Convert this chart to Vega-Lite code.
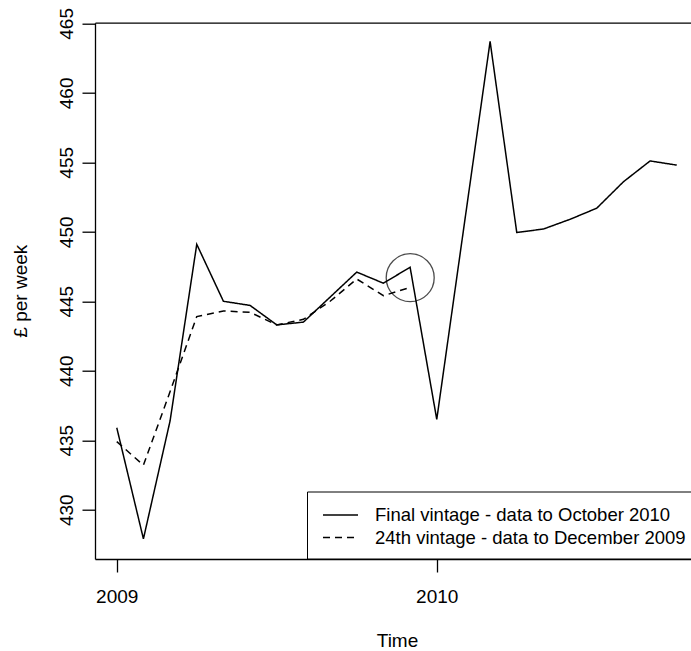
{
  "$schema": "https://vega.github.io/schema/vega-lite/v6.json",
  "autosize": "none",
  "width": 596,
  "height": 536.3,
  "padding": {"left": 95, "top": 22.7, "right": 0, "bottom": 92},
  "background": "white",
  "config": {
    "view": {"stroke": null},
    "font": "Liberation Sans",
    "axis": {"grid": false, "domainColor": "black", "domainWidth": 1.3, "tickColor": "black", "tickWidth": 1.3, "labelColor": "black", "titleColor": "black", "labelFont": "Liberation Sans", "titleFont": "Liberation Sans", "labelFontSize": 19, "titleFontSize": 19, "titleFontWeight": "normal"}
  },
  "datasets": {
    "series": [
      {"t": 2009.0000, "value": 435.9, "vintage": "Final vintage - data to October 2010"},
      {"t": 2009.0833, "value": 427.9, "vintage": "Final vintage - data to October 2010"},
      {"t": 2009.1667, "value": 436.4, "vintage": "Final vintage - data to October 2010"},
      {"t": 2009.2500, "value": 449.1, "vintage": "Final vintage - data to October 2010"},
      {"t": 2009.3333, "value": 445.0, "vintage": "Final vintage - data to October 2010"},
      {"t": 2009.4167, "value": 444.7, "vintage": "Final vintage - data to October 2010"},
      {"t": 2009.5000, "value": 443.3, "vintage": "Final vintage - data to October 2010"},
      {"t": 2009.5833, "value": 443.5, "vintage": "Final vintage - data to October 2010"},
      {"t": 2009.6667, "value": 445.3, "vintage": "Final vintage - data to October 2010"},
      {"t": 2009.7500, "value": 447.1, "vintage": "Final vintage - data to October 2010"},
      {"t": 2009.8333, "value": 446.3, "vintage": "Final vintage - data to October 2010"},
      {"t": 2009.9167, "value": 447.45, "vintage": "Final vintage - data to October 2010"},
      {"t": 2010.0000, "value": 436.5, "vintage": "Final vintage - data to October 2010"},
      {"t": 2010.0833, "value": 450.1, "vintage": "Final vintage - data to October 2010"},
      {"t": 2010.1667, "value": 463.7, "vintage": "Final vintage - data to October 2010"},
      {"t": 2010.2500, "value": 449.95, "vintage": "Final vintage - data to October 2010"},
      {"t": 2010.3333, "value": 450.2, "vintage": "Final vintage - data to October 2010"},
      {"t": 2010.4167, "value": 450.9, "vintage": "Final vintage - data to October 2010"},
      {"t": 2010.5000, "value": 451.7, "vintage": "Final vintage - data to October 2010"},
      {"t": 2010.5833, "value": 453.6, "vintage": "Final vintage - data to October 2010"},
      {"t": 2010.6667, "value": 455.1, "vintage": "Final vintage - data to October 2010"},
      {"t": 2010.7500, "value": 454.8, "vintage": "Final vintage - data to October 2010"},
      {"t": 2009.0000, "value": 434.9, "vintage": "24th vintage - data to December 2009"},
      {"t": 2009.0833, "value": 433.2, "vintage": "24th vintage - data to December 2009"},
      {"t": 2009.1667, "value": 438.5, "vintage": "24th vintage - data to December 2009"},
      {"t": 2009.2500, "value": 443.9, "vintage": "24th vintage - data to December 2009"},
      {"t": 2009.3333, "value": 444.3, "vintage": "24th vintage - data to December 2009"},
      {"t": 2009.4167, "value": 444.2, "vintage": "24th vintage - data to December 2009"},
      {"t": 2009.5000, "value": 443.3, "vintage": "24th vintage - data to December 2009"},
      {"t": 2009.5833, "value": 443.7, "vintage": "24th vintage - data to December 2009"},
      {"t": 2009.6667, "value": 445.0, "vintage": "24th vintage - data to December 2009"},
      {"t": 2009.7500, "value": 446.6, "vintage": "24th vintage - data to December 2009"},
      {"t": 2009.8333, "value": 445.4, "vintage": "24th vintage - data to December 2009"},
      {"t": 2009.9167, "value": 446.0, "vintage": "24th vintage - data to December 2009"}
    ],
    "marker": [
      {"t": 2009.917, "value": 446.7}
    ]
  },
  "layer": [
    {
      "data": {"name": "series"},
      "mark": {"type": "line", "color": "black", "strokeWidth": 1.5, "interpolate": "linear"},
      "encoding": {
        "x": {
          "field": "t", "type": "quantitative",
          "scale": {"domain": [2008.932, 2010.7945], "nice": false, "zero": false},
          "axis": {"orient": "bottom", "values": [2009, 2010], "format": "d", "tickSize": 13, "labelPadding": 30, "labelBaseline": "alphabetic", "labelAlign": "center", "labelFlush": false, "labelOverlap": false, "title": "Time", "titleX": 302, "titleY": 87, "titleBaseline": "alphabetic", "titleAlign": "center"}
        },
        "y": {
          "field": "value", "type": "quantitative",
          "scale": {"domain": [426.45, 465.05], "nice": false, "zero": false},
          "axis": {"orient": "left", "values": [430, 435, 440, 445, 450, 455, 460, 465], "tickSize": 13, "labelPadding": 10, "labelAngle": 270, "labelAlign": "center", "labelBaseline": "alphabetic", "labelFlush": false, "labelOverlap": false, "title": "£ per week", "titleAngle": 270, "titleX": -68.5, "titleY": 268, "titleAlign": "center", "titleBaseline": "alphabetic"}
        },
        "strokeDash": {
          "field": "vintage", "type": "nominal",
          "scale": {"domain": ["Final vintage - data to October 2010", "24th vintage - data to December 2009"], "range": [[1, 0], [7, 5]]},
          "legend": {"orient": "none", "legendX": 212, "legendY": 468.8, "title": null, "padding": 11.5, "rowPadding": 0.5, "labelFontSize": 18.5, "labelFont": "Liberation Sans", "labelColor": "black", "labelLimit": 0, "symbolType": "M-0.682,0H2.5", "symbolSize": 484, "symbolStrokeWidth": 1.5, "symbolStrokeColor": "black", "symbolFillColor": "transparent", "labelOffset": 32.5, "strokeColor": "black", "fillColor": "white"}
        }
      }
    },
    {
      "data": {"name": "marker"},
      "mark": {"type": "point", "shape": "circle", "filled": false, "color": "black", "strokeWidth": 1.3, "size": 2304},
      "encoding": {
        "x": {"field": "t", "type": "quantitative", "axis": {"orient": "top", "labels": false, "ticks": false, "domain": true, "title": null}},
        "y": {"field": "value", "type": "quantitative", "axis": null}
      }
    }
  ],
  "resolve": {"axis": {"x": "independent", "y": "independent"}}
}
